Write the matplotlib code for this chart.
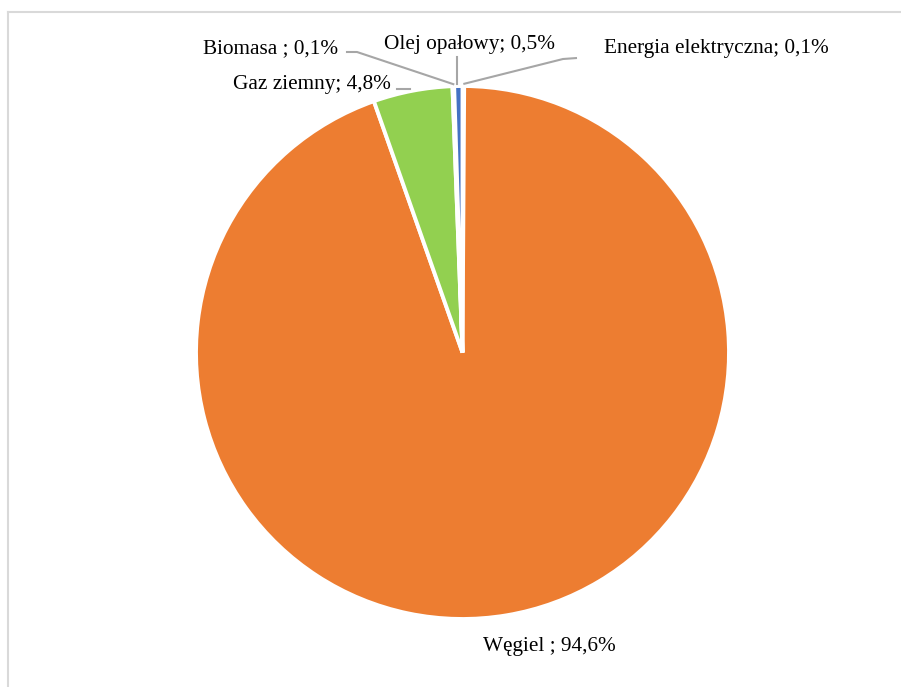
import matplotlib
matplotlib.use("Agg")
import matplotlib.pyplot as plt
import numpy as np

categories = ["Energia elektryczna", "Węgiel", "Gaz ziemny", "Biomasa", "Olej opałowy"]
values = [0.1, 94.6, 4.8, 0.1, 0.5]
labels = ["Energia elektryczna; 0,1%", "Węgiel ; 94,6%", "Gaz ziemny; 4,8%",
          "Biomasa ; 0,1%", "Olej opałowy; 0,5%"]
colors = ["#A5A5A5", "#ED7D31", "#92D050", "#FFC000", "#4472C4"]

W, H = 901, 687
fig = plt.figure(figsize=(W / 100, H / 100), dpi=100)
ax = fig.add_axes([0, 0, 1, 1])

cx, cy, r = 462.5, H - 352.5, 266.5
wedges, _ = ax.pie(values, colors=colors, startangle=90, counterclock=False,
                   center=(cx, cy), radius=r, frame=True,
                   wedgeprops=dict(edgecolor="white", linewidth=2.8))
ax.set_xlim(0, W)
ax.set_ylim(0, H)
ax.set_aspect("equal")
ax.axis("off")

font = dict(family="Liberation Serif", fontsize=15.3, color="#000000")
lc = "#A6A6A6"

def edge_pt(i):
    w = wedges[i]
    a = np.deg2rad((w.theta1 + w.theta2) / 2)
    return cx + r * np.cos(a), cy + r * np.sin(a)

# Energia elektryczna
ex, ey = edge_pt(0)
ax.plot([ex, 563, 577], [ey + 2, H - 59, H - 58], color=lc, lw=1.5, solid_capstyle="butt")
ax.text(604, H - 48, labels[0], ha="left", va="center", **font)
# Węgiel
ax.text(549, H - 647, labels[1], ha="center", va="center", **font)
# Gaz ziemny
gx, gy = edge_pt(2)
ax.plot([gx - 3, 397], [H - 89, H - 89], color=lc, lw=1.5)
ax.text(391, H - 84, labels[2], ha="right", va="center", **font)
# Biomasa
bx, by = edge_pt(3)
ax.plot([bx, 357, 347], [by + 2, H - 52, H - 52], color=lc, lw=1.5)
ax.text(338, H - 49, labels[3], ha="right", va="center", **font)
# Olej opałowy
ox, oy = edge_pt(4)
ax.plot([ox - 1, ox - 1], [oy + 2, H - 57], color=lc, lw=1.5)
ax.text(469, H - 44, labels[4], ha="center", va="center", **font)

# border (top and left visible)
ax.plot([8, W], [H - 12, H - 12], color="#D9D9D9", lw=1.5)
ax.plot([8, 8], [H - 12, 0], color="#D9D9D9", lw=1.5)

fig.savefig("out.png", dpi=100, facecolor="white")
